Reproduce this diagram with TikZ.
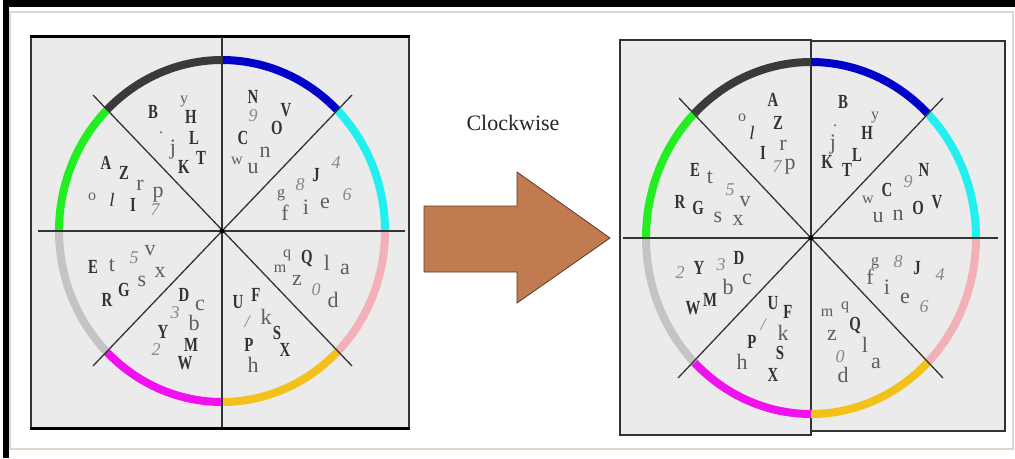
\documentclass[tikz,border=0pt]{standalone}
\usepackage{fontspec}
\setmainfont{Liberation Serif}
\definecolor{capc}{HTML}{333333}
\definecolor{lowc}{HTML}{5E5E5E}
\definecolor{digc}{HTML}{888888}
\definecolor{boxbg}{HTML}{EBEBEB}
\definecolor{ringdark}{HTML}{3A3A3A}
\definecolor{ringblue}{HTML}{0000C8}
\definecolor{ringcyan}{HTML}{22F0F0}
\definecolor{ringpink}{HTML}{F4B0B8}
\definecolor{ringgold}{HTML}{F2C21B}
\definecolor{ringmag}{HTML}{F010F0}
\definecolor{ringgrey}{HTML}{C4C4C4}
\definecolor{ringgreen}{HTML}{22EE22}
\definecolor{arrowfill}{HTML}{C27B50}
\definecolor{arrowline}{HTML}{5A3A2A}
\definecolor{framebeige}{HTML}{E2D6CA}
\begin{document}
\begin{tikzpicture}[x=1pt,y=-1pt,
  capletter/.style={text=capc, font=\fontsize{20}{20}\selectfont\bfseries, inner sep=0pt},
  lowletter/.style={text=lowc, font=\fontsize{22}{22}\selectfont, inner sep=0pt},
  smallletter/.style={text=lowc, font=\fontsize{16}{16}\selectfont, inner sep=0pt},
  digletter/.style={text=digc, font=\fontsize{18}{18}\selectfont\itshape, inner sep=0pt},
  italletter/.style={text=capc, font=\fontsize{19}{19}\selectfont\itshape, inner sep=0pt},
  divline/.style={draw=black!80, line width=1.3pt},
  ringseg/.style={line width=8pt},
  boxside/.style={draw=black!80, line width=1.5pt},
  boxthick/.style={draw=black, line width=3pt}]
\useasboundingbox (0,0) rectangle (1015,458);
% outer frame
\fill[black] (3,0) rectangle (1015,7);
\fill[black] (3,0) rectangle (9,458);
\draw[framebeige, line width=1.2pt] (10,12) rectangle (1013,449);

% ---------- left panel ----------
\fill[boxbg] (31,36) rectangle (409,428);
\draw[boxside] (31,36) -- (31,428);
\draw[boxside] (409,36) -- (409,428);
\draw[boxthick] (30,36) -- (410,36);
\draw[boxthick] (30,428) -- (410,428);
\foreach \a/\b/\c in {90/135/ringdark, 45/90/ringblue, 0/45/ringcyan, -45/0/ringpink, -90/-45/ringgold, -135/-90/ringmag, 180/225/ringgrey, 135/180/ringgreen}
  \draw[ringseg, color=\c] plot[domain=\a:\b, samples=30] ({222+163*cos(\x)}, {231-171*sin(\x)});
\coordinate (Lc) at (222,231);
\coordinate (Lt) at (222,37);
\coordinate (Lb) at (222,427);
\coordinate (Ll) at (38,231);
\coordinate (Lr) at (405,231);
\coordinate (Ld1) at (93,95);
\coordinate (Ld2) at (352,366);
\coordinate (Ld3) at (352,95);
\coordinate (Ld4) at (93,366);
\draw[divline] (Lt) -- (Lb);
\draw[divline] (Ll) -- (Lr);
\draw[divline] (Ld1) -- (Ld2);
\draw[divline] (Ld3) -- (Ld4);
\fill[black] (Lc) circle (2.5);

\foreach \t/\x/\y [count=\i] in {B/153/112, H/191/117, L/194/138, T/201/158, K/184/167, A/106/163, Z/124/173, I/133/205, N/253/97, V/286/110, O/277/128, C/243/138, J/316/175, E/93/267, G/124/290, R/107/300, D/184/295, Y/163/332, M/191/345, W/185/363, Q/307/258, U/238/302, F/256/295, S/277/333, P/249/345, X/285/350}
  \node[capletter] (LC\i) at (\x,\y) {\scalebox{0.74}[1]{\t}};
\foreach \t/\x/\y [count=\i] in {j/173/150, r/140/185, p/158/195, n/265/152, u/253/169, f/285/213, i/306/207, e/325/203, t/112/265, v/150/251, x/160/272, s/142/281, c/200/305, b/194/323, l/327/263, a/345/269, z/297/280, d/333/300, k/266/317, h/253/365}
  \node[lowletter] (LL\i) at (\x,\y) {\t};
\foreach \t/\x/\y [count=\i] in {y/184/102, o/92/197, w/237/161, g/281/195, q/287/255, m/280/269}
  \node[smallletter] (LS\i) at (\x,\y) {\t};
\foreach \t/\x/\y [count=\i] in {7/155/210, 9/253/116, 4/336/163, 8/300/185, 6/347/195, 5/134/258, 3/175/313, 2/156/350, 0/316/290}
  \node[digletter] (LD\i) at (\x,\y) {\t};
\node[italletter] (LI) at (112,200) {l};
\node[smallletter] (LP) at (161,133) {.};
\node[digletter] (LSl) at (247,322) {/};

% ---------- arrow ----------
\node[text=black!85, font=\fontsize{22}{22}\selectfont, inner sep=0pt] (cw) at (513,123) {Clockwise};
\draw[arrowline, fill=arrowfill, line width=0.8pt] (424,206) -- (517,206) -- (517,172) -- (610,238) -- (517,303) -- (517,272) -- (424,272) -- cycle;

% ---------- right panel ----------
\fill[boxbg] (620,40) rectangle (811,435);
\fill[boxbg] (811,41) rectangle (1005,431);
\draw[boxside] (620,40) rectangle (811,435);
\draw[boxside] (811,41) rectangle (1005,431);
\foreach \a/\b/\c in {90/135/ringdark, 45/90/ringblue, 0/45/ringcyan, -45/0/ringpink, -90/-45/ringgold, -135/-90/ringmag, 180/225/ringgrey, 135/180/ringgreen}
  \draw[ringseg, color=\c] plot[domain=\a:\b, samples=30] ({811+165*cos(\x)}, {238-176*sin(\x)});
\coordinate (Rc) at (811,238);
\coordinate (Rl) at (623,238);
\coordinate (Rr) at (998,238);
\coordinate (Rd1) at (679,98);
\coordinate (Rd2) at (943,378);
\coordinate (Rd3) at (943,98);
\coordinate (Rd4) at (678,378);
\draw[divline] (Rl) -- (Rr);
\draw[divline] (Rd1) -- (Rd2);
\draw[divline] (Rd3) -- (Rd4);
\fill[black] (Rc) circle (2.5);

\foreach \t/\x/\y [count=\i] in {A/773/100, Z/778/123, I/763/153, E/695/170, R/680/202, G/698/208, B/843/102, H/867/133, L/857/155, K/827/162, T/847/170, N/924/170, C/887/190, V/937/202, O/918/208, Y/699/268, D/739/258, M/710/300, W/693/308, U/773/303, F/788/312, P/752/342, S/780/353, X/773/375, J/917/268, Q/855/325}
  \node[capletter] (RC\i) at (\x,\y) {\scalebox{0.74}[1]{\t}};
\foreach \t/\x/\y [count=\i] in {r/783/145, p/790/167, t/710/177, v/745/202, s/718/217, x/738/220, j/833/145, n/898/215, u/878/218, c/747/279, b/728/287, k/783/333, h/742/362, f/870/277, i/887/287, e/905/298, z/832/335, l/865/345, a/876/363, d/843/375}
  \node[lowletter] (RL\i) at (\x,\y) {\t};
\foreach \t/\x/\y [count=\i] in {o/742/118, y/875/118, w/868/200, g/875/263, m/827/313, q/845/307}
  \node[smallletter] (RS\i) at (\x,\y) {\t};
\foreach \t/\x/\y [count=\i] in {7/777/167, 5/730/190, 9/908/182, 3/721/265, 2/680/273, 8/898/262, 4/940/275, 6/924/307, 0/840/357}
  \node[digletter] (RD\i) at (\x,\y) {\t};
\node[italletter] (RI) at (752,133) {l};
\node[smallletter] (RP) at (835,126) {.};
\node[digletter] (RSl) at (763,325) {/};
\end{tikzpicture}
\end{document}
